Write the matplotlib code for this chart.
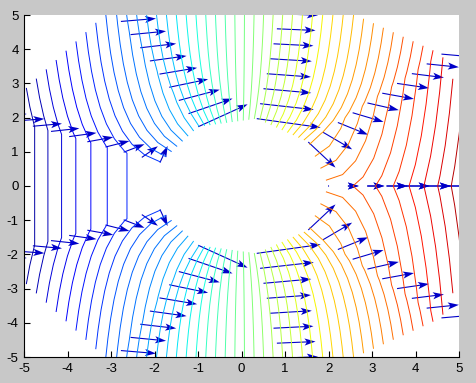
import numpy as np
import matplotlib
matplotlib.use("Agg")
import matplotlib.pyplot as plt
from matplotlib.colors import Normalize

# ---- data: polar mesh around a cylinder (potential flow) ----
r_nodes = [2.0, 2.444, 2.889, 3.333, 3.778, 4.222, 4.667, 5.111, 5.556, 6.0]
theta_deg_nodes = [0, 40, 80, 120, 160, 200, 240, 280, 320, 360]
cylinder_radius = 2.0
free_stream = 1.0
n_levels = 50
arrow_scale = 0.758
x_ticks = [-5, -4, -3, -2, -1, 0, 1, 2, 3, 4, 5]
y_ticks = [-5, -4, -3, -2, -1, 0, 1, 2, 3, 4, 5]

plt.rcParams["font.family"] = ["Liberation Sans", "DejaVu Sans"]
plt.rcParams["axes.unicode_minus"] = False

R, T = np.meshgrid(np.array(r_nodes), np.deg2rad(theta_deg_nodes))
X = R * np.cos(T)
Y = R * np.sin(T)
a2 = cylinder_radius ** 2
Z = free_stream * (R + a2 / R) * np.cos(T)
R4 = (X ** 2 + Y ** 2) ** 2
U = free_stream * (1 + a2 * (Y ** 2 - X ** 2) / R4)
V = free_stream * (-2 * a2 * X * Y / R4)

fig = plt.figure(figsize=(4.76, 3.83), dpi=100, facecolor="#c8c8c8")
ax = fig.add_axes([24.3 / 476, 1 - 357 / 383, (459 - 24.3) / 476, (357 - 15) / 383])
ax.set_facecolor("white")

zmin, zmax = Z.min(), Z.max()
levels = np.linspace(zmin, zmax, n_levels + 2)[1:-1]
ax.contour(X, Y, Z, levels=levels, cmap=plt.get_cmap("jet", 64),
           norm=Normalize(levels.min(), levels.max()), linewidths=0.7)

ax.quiver(X, Y, U, V, angles="xy", scale_units="xy", scale=1 / arrow_scale,
          color="#0000c8", units="dots", width=1.1, headwidth=6.5,
          headlength=10, headaxislength=8, pivot="tail")

ax.set_xlim(-5, 5)
ax.set_ylim(-5, 5)
ax.set_xticks(x_ticks)
ax.set_yticks(y_ticks)
for s in ("top", "right"):
    ax.spines[s].set_visible(False)
for s in ("left", "bottom"):
    ax.spines[s].set_linewidth(0.8)
ax.tick_params(direction="in", length=4, width=0.8, labelsize=9.5, pad=4,
               top=False, right=False)

fig.savefig("out.png", dpi=100, facecolor=fig.get_facecolor())
